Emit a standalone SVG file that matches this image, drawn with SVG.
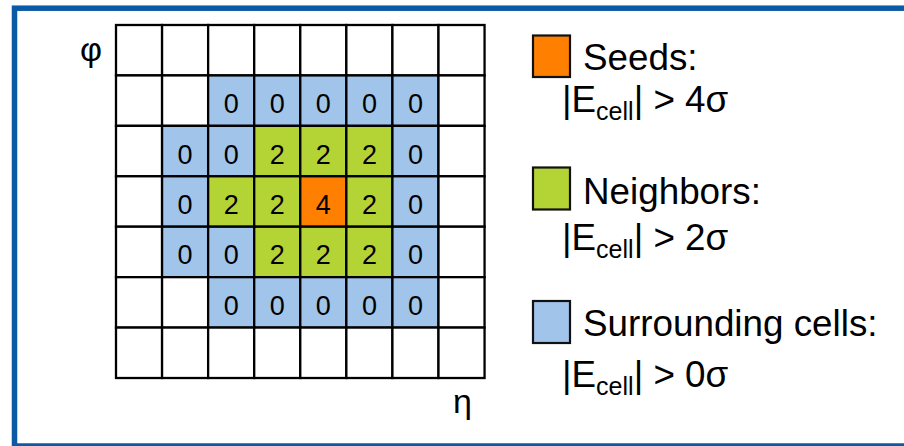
<svg xmlns="http://www.w3.org/2000/svg" width="904" height="446" viewBox="0 0 904 446">
<style>
.cell{stroke:#000;stroke-width:2.3}
.w{fill:#fff}
.b{fill:#a1c4ea}
.g{fill:#b4d335}
.o{fill:#ff7f00}
.n{font-family:"Liberation Sans",Arial,sans-serif;font-size:27px;text-anchor:middle;fill:#000}
.t{font-family:"Liberation Sans",Arial,sans-serif;font-size:36.8px;fill:#000}
.a{font-family:"Liberation Sans",Arial,sans-serif;font-size:34px;fill:#000}
.s{font-size:25px}
.key{stroke:#111;stroke-width:2.2}
</style>
<rect x="14.5" y="8.2" width="900" height="437.8" fill="#fff" stroke="#0b5aa5" stroke-width="5.5"/>
<g id="grid">
<g id="row0">
<rect class="cell w" x="116" y="25" width="46.07" height="50.43"/>
<rect class="cell w" x="162.07" y="25" width="46.07" height="50.43"/>
<rect class="cell w" x="208.14" y="25" width="46.07" height="50.43"/>
<rect class="cell w" x="254.21" y="25" width="46.07" height="50.43"/>
<rect class="cell w" x="300.28" y="25" width="46.07" height="50.43"/>
<rect class="cell w" x="346.35" y="25" width="46.07" height="50.43"/>
<rect class="cell w" x="392.42" y="25" width="46.07" height="50.43"/>
<rect class="cell w" x="438.49" y="25" width="46.07" height="50.43"/>
</g>
<g id="row1">
<rect class="cell w" x="116" y="75.43" width="46.07" height="50.43"/>
<rect class="cell w" x="162.07" y="75.43" width="46.07" height="50.43"/>
<rect class="cell b" x="208.14" y="75.43" width="46.07" height="50.43"/>
<rect class="cell b" x="254.21" y="75.43" width="46.07" height="50.43"/>
<rect class="cell b" x="300.28" y="75.43" width="46.07" height="50.43"/>
<rect class="cell b" x="346.35" y="75.43" width="46.07" height="50.43"/>
<rect class="cell b" x="392.42" y="75.43" width="46.07" height="50.43"/>
<rect class="cell w" x="438.49" y="75.43" width="46.07" height="50.43"/>
</g>
<g id="row2">
<rect class="cell w" x="116" y="125.86" width="46.07" height="50.43"/>
<rect class="cell b" x="162.07" y="125.86" width="46.07" height="50.43"/>
<rect class="cell b" x="208.14" y="125.86" width="46.07" height="50.43"/>
<rect class="cell g" x="254.21" y="125.86" width="46.07" height="50.43"/>
<rect class="cell g" x="300.28" y="125.86" width="46.07" height="50.43"/>
<rect class="cell g" x="346.35" y="125.86" width="46.07" height="50.43"/>
<rect class="cell b" x="392.42" y="125.86" width="46.07" height="50.43"/>
<rect class="cell w" x="438.49" y="125.86" width="46.07" height="50.43"/>
</g>
<g id="row3">
<rect class="cell w" x="116" y="176.29" width="46.07" height="50.43"/>
<rect class="cell b" x="162.07" y="176.29" width="46.07" height="50.43"/>
<rect class="cell g" x="208.14" y="176.29" width="46.07" height="50.43"/>
<rect class="cell g" x="254.21" y="176.29" width="46.07" height="50.43"/>
<rect class="cell o" x="300.28" y="176.29" width="46.07" height="50.43"/>
<rect class="cell g" x="346.35" y="176.29" width="46.07" height="50.43"/>
<rect class="cell b" x="392.42" y="176.29" width="46.07" height="50.43"/>
<rect class="cell w" x="438.49" y="176.29" width="46.07" height="50.43"/>
</g>
<g id="row4">
<rect class="cell w" x="116" y="226.72" width="46.07" height="50.43"/>
<rect class="cell b" x="162.07" y="226.72" width="46.07" height="50.43"/>
<rect class="cell b" x="208.14" y="226.72" width="46.07" height="50.43"/>
<rect class="cell g" x="254.21" y="226.72" width="46.07" height="50.43"/>
<rect class="cell g" x="300.28" y="226.72" width="46.07" height="50.43"/>
<rect class="cell g" x="346.35" y="226.72" width="46.07" height="50.43"/>
<rect class="cell b" x="392.42" y="226.72" width="46.07" height="50.43"/>
<rect class="cell w" x="438.49" y="226.72" width="46.07" height="50.43"/>
</g>
<g id="row5">
<rect class="cell w" x="116" y="277.15" width="46.07" height="50.43"/>
<rect class="cell w" x="162.07" y="277.15" width="46.07" height="50.43"/>
<rect class="cell b" x="208.14" y="277.15" width="46.07" height="50.43"/>
<rect class="cell b" x="254.21" y="277.15" width="46.07" height="50.43"/>
<rect class="cell b" x="300.28" y="277.15" width="46.07" height="50.43"/>
<rect class="cell b" x="346.35" y="277.15" width="46.07" height="50.43"/>
<rect class="cell b" x="392.42" y="277.15" width="46.07" height="50.43"/>
<rect class="cell w" x="438.49" y="277.15" width="46.07" height="50.43"/>
</g>
<g id="row6">
<rect class="cell w" x="116" y="327.58" width="46.07" height="50.43"/>
<rect class="cell w" x="162.07" y="327.58" width="46.07" height="50.43"/>
<rect class="cell w" x="208.14" y="327.58" width="46.07" height="50.43"/>
<rect class="cell w" x="254.21" y="327.58" width="46.07" height="50.43"/>
<rect class="cell w" x="300.28" y="327.58" width="46.07" height="50.43"/>
<rect class="cell w" x="346.35" y="327.58" width="46.07" height="50.43"/>
<rect class="cell w" x="392.42" y="327.58" width="46.07" height="50.43"/>
<rect class="cell w" x="438.49" y="327.58" width="46.07" height="50.43"/>
</g>
</g>
<g id="values">
<text class="n" x="231.2" y="113">0</text><text class="n" x="277.2" y="113">0</text><text class="n" x="323.3" y="113">0</text><text class="n" x="369.4" y="113">0</text><text class="n" x="415.5" y="113">0</text>
<text class="n" x="185.1" y="163.5">0</text><text class="n" x="231.2" y="163.5">0</text><text class="n" x="277.2" y="163.5">2</text><text class="n" x="323.3" y="163.5">2</text><text class="n" x="369.4" y="163.5">2</text><text class="n" x="415.5" y="163.5">0</text>
<text class="n" x="185.1" y="214">0</text><text class="n" x="231.2" y="214">2</text><text class="n" x="277.2" y="214">2</text><text class="n" x="323.3" y="214">4</text><text class="n" x="369.4" y="214">2</text><text class="n" x="415.5" y="214">0</text>
<text class="n" x="185.1" y="264.4">0</text><text class="n" x="231.2" y="264.4">0</text><text class="n" x="277.2" y="264.4">2</text><text class="n" x="323.3" y="264.4">2</text><text class="n" x="369.4" y="264.4">2</text><text class="n" x="415.5" y="264.4">0</text>
<text class="n" x="231.2" y="314.8">0</text><text class="n" x="277.2" y="314.8">0</text><text class="n" x="323.3" y="314.8">0</text><text class="n" x="369.4" y="314.8">0</text><text class="n" x="415.5" y="314.8">0</text>
</g>
<g id="axes">
<text class="a" x="80" y="61">φ</text>
<text class="a" x="453" y="413">η</text>
</g>
<g id="legend-seeds">
<rect class="key o" x="533" y="35.5" width="37" height="41.5"/>
<text class="t" x="583" y="70">Seeds:</text>
<text class="t" x="562" y="112">|E<tspan class="s" dy="8">cell</tspan><tspan dy="-8">| &gt; 4σ</tspan></text>
</g>
<g id="legend-neighbors">
<rect class="key g" x="533" y="167.5" width="37" height="42"/>
<text class="t" x="583" y="204">Neighbors:</text>
<text class="t" x="562" y="250">|E<tspan class="s" dy="8">cell</tspan><tspan dy="-8">| &gt; 2σ</tspan></text>
</g>
<g id="legend-surrounding">
<rect class="key b" x="533" y="301" width="37" height="42"/>
<text class="t" x="583" y="336">Surrounding cells:</text>
<text class="t" x="562" y="387">|E<tspan class="s" dy="8">cell</tspan><tspan dy="-8">| &gt; 0σ</tspan></text>
</g>
</svg>
